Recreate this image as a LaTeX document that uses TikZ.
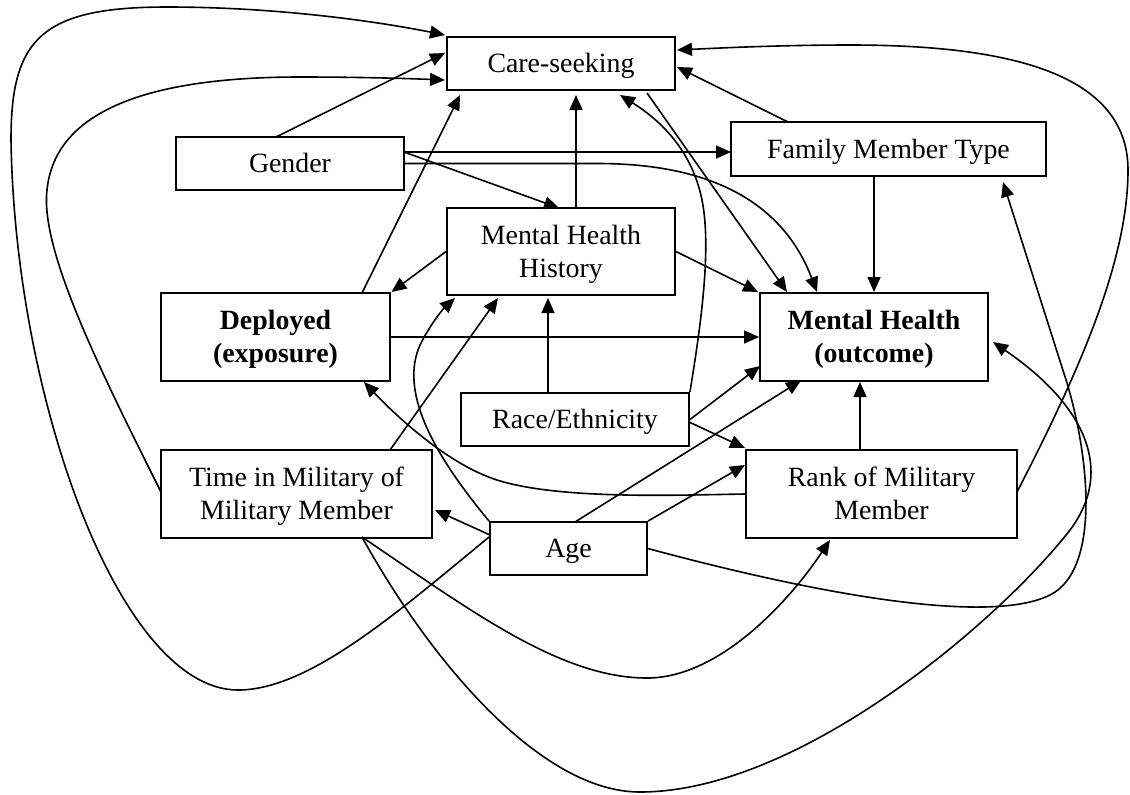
\documentclass[tikz,border=0pt]{standalone}
\usepackage{fontspec}
\setmainfont{Liberation Serif}
\usetikzlibrary{arrows.meta,calc}
\newcommand\boxtxt[1]{\raisebox{-2pt}[\height][\depth]{\begin{tabular}{@{}c@{}}#1\end{tabular}}}
\begin{document}
\begin{tikzpicture}[x=0.75pt,y=-0.75pt,
  box/.style={draw, line width=1.4pt, inner sep=0pt, font=\fontsize{20.9pt}{24.75pt}\selectfont},
  arr/.style={line width=1.2pt, -{Triangle[length=11.25pt,width=9.75pt]}}]
\path[use as bounding box] (0,0) rectangle (1130,794);
% nodes
\node[box, minimum width=171pt, minimum height=39.75pt] (care) at (561,63.5) {\boxtxt{Care-seeking}};
\node[box, minimum width=171pt, minimum height=39.75pt] (gender) at (290,163.5) {\boxtxt{Gender}};
\node[box, minimum width=236.25pt, minimum height=40.5pt] (fmt) at (888.5,149) {\boxtxt{Family Member Type}};
\node[box, minimum width=171pt, minimum height=65.25pt] (mhh) at (561,251.5) {\boxtxt{Mental Health\\History}};
\node[box, minimum width=171.75pt, minimum height=66pt] (dep) at (275.5,337) {\boxtxt{\textbf{Deployed}\\\textbf{(exposure)}}};
\node[box, minimum width=171pt, minimum height=66pt] (mho) at (874,337) {\boxtxt{\textbf{Mental Health}\\\textbf{(outcome)}}};
\node[box, minimum width=171pt, minimum height=39.75pt] (race) at (575,419.5) {\boxtxt{Race/Ethnicity}};
\node[box, minimum width=203.25pt, minimum height=66pt] (time) at (296.5,494) {\boxtxt{Time in Military of\\Military Member}};
\node[box, minimum width=203.25pt, minimum height=66pt] (rank) at (881.5,494) {\boxtxt{Rank of Military\\Member}};
\node[box, minimum width=117.75pt, minimum height=39.75pt] (age) at (568.5,548.5) {\boxtxt{Age}};
% curved connectors
\draw[arr] ($(age.west)+(0,-11.5)$) .. controls (400,610) and (310,690) .. (238,690)
  .. controls (120,690) and (15,400) .. (11,140) .. controls (11,40) and (40,7) .. (167,7)
  .. controls (280,7) and (380,22) .. ($(care.center)+(-116,-28.5)$);
\draw[arr] ($(time.center)+(-135.5,-2)$) .. controls (100,370) and (40,250) .. (47,190)
  .. controls (55,110) and (150,77) .. (300,77) .. controls (370,77) and (420,79) .. ($(care.center)+(-116,16.5)$);
\draw[arr] ($(rank.center)+(135.5,-2)$) .. controls (1080,370) and (1128,260) .. (1128,170)
  .. controls (1128,70) and (1000,45) .. (850,45) .. controls (780,45) and (720,48) .. ($(care.center)+(116,-13.5)$);
\draw[arr] (rank.west) .. controls (680,495) and (560,500) .. (497,480)
  .. controls (450,465) and (400,420) .. ($(dep.center)+(88.5,45)$);
\draw[arr] (age.north west) .. controls (430,450) and (400,390) .. (420,345)
  .. controls (430,325) and (442,310) .. ($(mhh.center)+(-106,46.5)$);
\draw[arr] ($(time.center)+(65.5,43)$) .. controls (470,610) and (560,678) .. (647,678)
  .. controls (720,678) and (790,600) .. ($(rank.center)+(-51.5,46)$);
\draw[arr] ($(time.center)+(65.5,43)$) .. controls (430,660) and (540,792) .. (640,792)
  .. controls (800,792) and (1000,620) .. (1070,530)
  .. controls (1115,470) and (1085,405) .. ($(mho.center)+(119,5)$);
\draw[arr] (age.east) .. controls (820,595) and (990,625) .. (1050,595)
  .. controls (1100,570) and (1090,460) .. (1067,383) -- ($(fmt.center)+(114.5,33)$);
\draw[arr] (gender.east) -- (600,163.5) .. controls (700,164) and (780,195) .. ($(mho.center)+(-57,-45)$);
\draw[arr] (race.north east) .. controls (700,330) and (712,250) .. (702,200)
  .. controls (692,150) and (660,120) .. ($(care.center)+(59,31.5)$);
% straight connectors
\draw[arr] ($(gender.center)+(-14,-26.5)$) -- ($(care.center)+(-116,-10.5)$);
\draw[arr] ($(gender.center)+(114,-11.5)$) -- ($(fmt.center)+(-157.5,3)$);
\draw[arr] ($(gender.center)+(114,-11.5)$) -- ($(mhh.center)+(-2,-43.5)$);
\draw[arr] ($(dep.center)+(86.5,-44)$) -- ($(care.center)+(-101,31.5)$);
\draw[arr] (mhh.west) -- ($(dep.center)+(116,-45)$);
\draw[arr] ($(mhh.center)+(15,-43.5)$) -- ($(care.center)+(15,31.5)$);
\draw[arr] ($(fmt.center)+(-100.5,-27)$) -- ($(care.center)+(116,3.5)$);
\draw[arr] ($(care.center)+(86,29.5)$) -- ($(mho.center)+(-87,-45)$);
\draw[arr] (mhh.east) -- ($(mho.center)+(-116,-45)$);
\draw[arr] ($(fmt.center)+(-14.5,27)$) -- ($(mho.center)+(0,-45)$);
\draw[arr] (dep.east) -- (mho.west);
\draw[arr] ($(race.center)+(-27,-26.5)$) -- ($(mhh.center)+(-13,46.5)$);
\draw[arr] (race.east) -- ($(mho.center)+(-114,29)$);
\draw[arr] ($(race.center)+(114,2.5)$) -- ($(rank.center)+(-136.5,-46)$);
\draw[arr] ($(age.center)+(6.5,-26.5)$) -- ($(mho.center)+(-73,43.5)$);
\draw[arr] (age.north east) -- ($(rank.center)+(-136.5,-29)$);
\draw[arr] ($(rank.center)+(-21.5,-44)$) -- ($(mho.center)+(-14,45)$);
\draw[arr] ($(age.center)+(-78.5,-13.5)$) -- ($(time.center)+(138.5,16)$);
\draw[arr] ($(time.center)+(93.5,-44)$) -- ($(mhh.center)+(-63,46.5)$);
\end{tikzpicture}
\end{document}
